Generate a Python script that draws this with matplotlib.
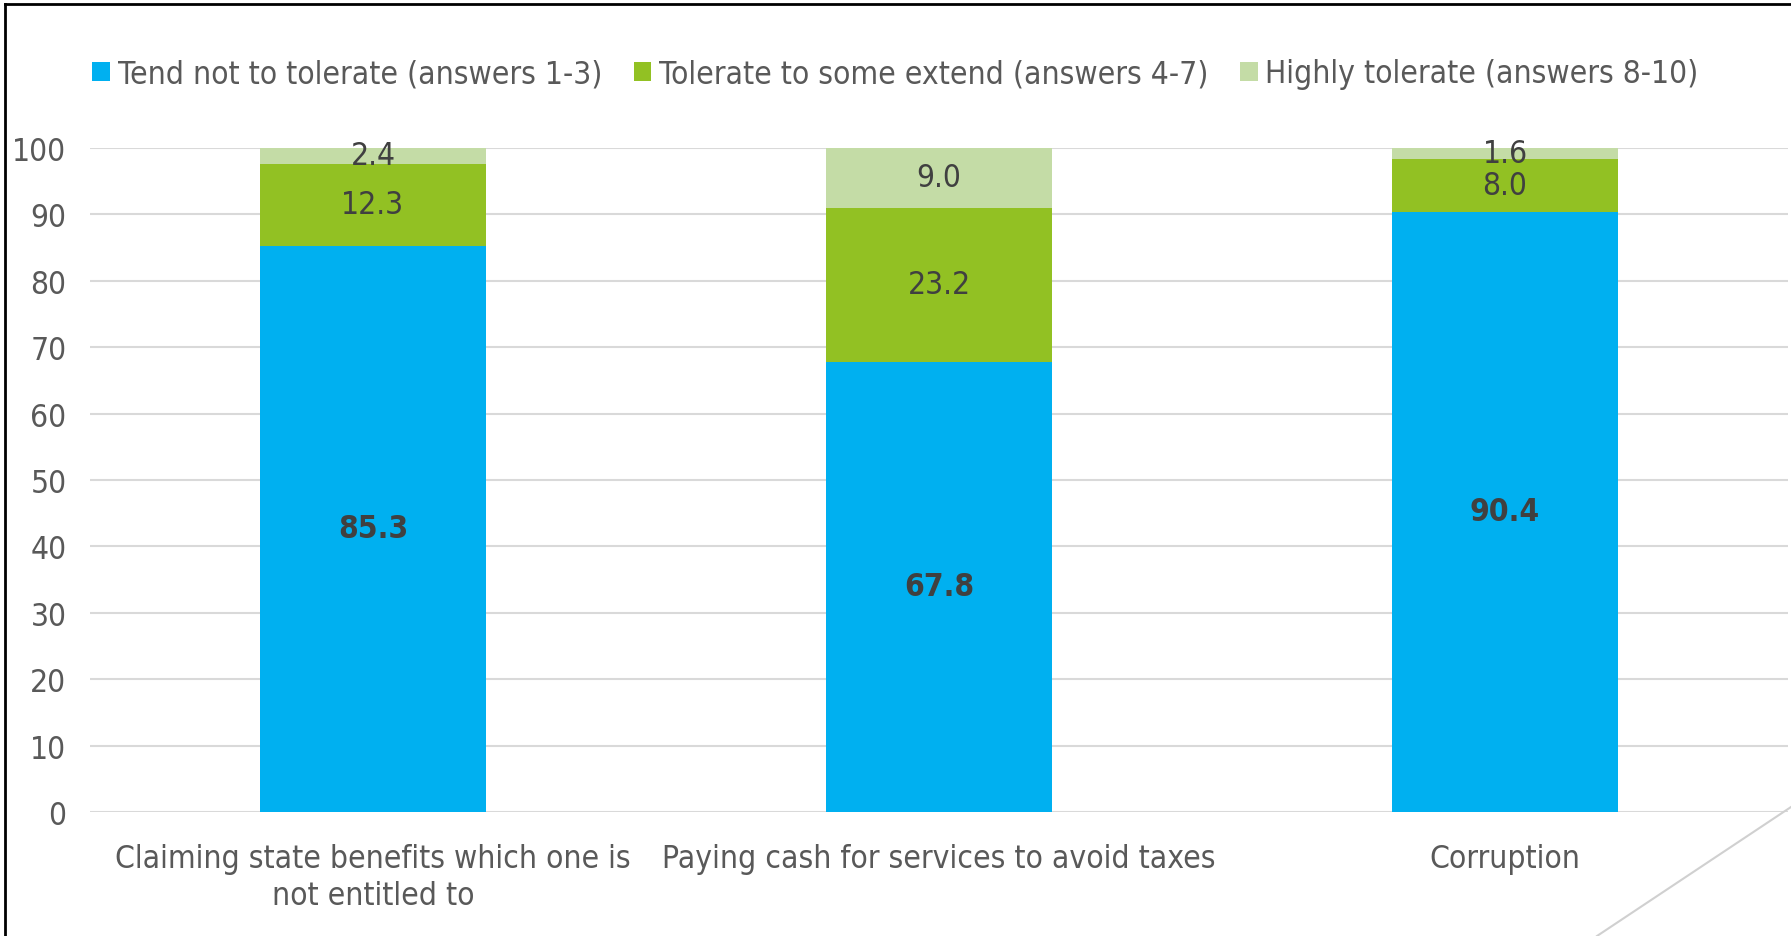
import matplotlib.pyplot as plt
import numpy as np
from matplotlib.lines import Line2D

# answers on a 1-10 scale, grouped into three tolerance levels (%)
categories = ["Claiming state benefits which one is\nnot entitled to",
              "Paying cash for services to avoid taxes",
              "Corruption"]
not_tolerate = [85.3, 67.8, 90.4]
some_tolerate = [12.3, 23.2, 8.0]
highly_tolerate = [2.4, 9.0, 1.6]
series_names = ["Tend not to tolerate (answers 1-3)",
                "Tolerate to some extend (answers 4-7)",
                "Highly tolerate (answers 8-10)"]
colors = ["#00B0F0", "#92C123", "#C4DCA6"]

plt.rcParams['font.family'] = ['DejaVu Sans']
plt.rcParams['font.stretch'] = 'condensed'
fs = 22.8

fig = plt.figure(figsize=(17.91, 9.37), dpi=100)
ax = fig.add_axes([90/1791, 1-813/937, 1698/1791, (813-149)/937])

x = np.arange(len(categories))
bottom = np.zeros(len(categories))
for vals, name, c in zip([not_tolerate, some_tolerate, highly_tolerate], series_names, colors):
    vals = np.array(vals)
    ax.bar(x, vals, 0.4, bottom=bottom, color=c, label=name, zorder=3)
    for xi, b, v in zip(x, bottom, vals):
        bold = c == colors[0]
        ax.text(xi, b + v/2, f"{v:.1f}", ha='center', va='center', fontsize=fs,
                color='#404040', fontweight='bold' if bold else 'normal',
                fontstretch='condensed', zorder=4)
    bottom += vals

ax.set_xlim(-0.5, 2.5)
ax.set_ylim(0, 100)
ax.set_yticks(range(0, 101, 10))
ax.set_xticks(x)
ax.set_xticklabels(categories, fontsize=fs, color='#595959', linespacing=1.25)
ax.tick_params(axis='y', labelsize=fs, labelcolor='#595959', length=0, pad=17)
ax.tick_params(axis='x', length=0, pad=22)
ax.grid(axis='y', color='#D9D9D9', linewidth=1.5, zorder=0)
for s in ax.spines.values():
    s.set_visible(False)

fig.legend(loc='center', bbox_to_anchor=(0.5, 1-75/937), ncol=3, frameon=False,
           fontsize=fs, labelcolor='#595959', handlelength=0.55, handleheight=0.55,
           handletextpad=0.25, columnspacing=1.0)

# outer frame and corner line
fig.add_artist(Line2D([5/1791, 5/1791], [0, 1-5/937], color='black', linewidth=2))
fig.add_artist(Line2D([5/1791, 1], [1-5/937, 1-5/937], color='black', linewidth=2))
fig.add_artist(Line2D([1597/1791, 1], [0, 1-808/937], color='#D0D0D0', linewidth=1.5))

fig.savefig('out.png', dpi=100)
